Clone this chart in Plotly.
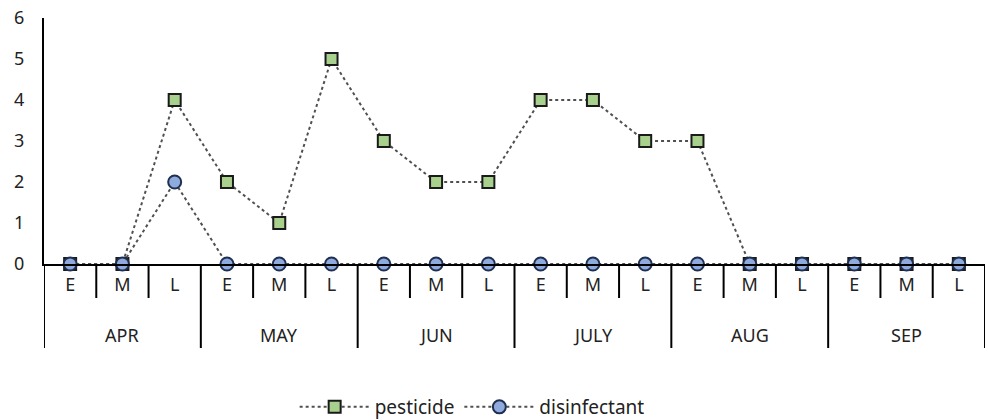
import plotly.graph_objects as go

months = ["APR", "MAY", "JUN", "JULY", "AUG", "SEP"]
periods = ["E", "M", "L"]
pesticide = [0, 0, 4, 2, 1, 5, 3, 2, 2, 4, 4, 3, 3, 0, 0, 0, 0, 0]
disinfectant = [0, 0, 2, 0, 0, 0, 0, 0, 0, 0, 0, 0, 0, 0, 0, 0, 0, 0]

inner = [p for _ in months for p in periods]
xi = list(range(len(inner)))
n_per = len(periods)

fig = go.Figure()
fig.add_trace(go.Scatter(
    x=xi, y=pesticide, name="pesticide", mode="lines+markers",
    line=dict(color="#505050", width=2, dash="dot"),
    marker=dict(symbol="square", size=12, color="#a9d18e",
                line=dict(color="#1a1a1a", width=2)),
    cliponaxis=False,
))
fig.add_trace(go.Scatter(
    x=xi, y=disinfectant, name="disinfectant", mode="lines+markers",
    line=dict(color="#505050", width=2, dash="dot"),
    marker=dict(symbol="circle", size=13, color="#8faadc",
                line=dict(color="#1f2f4f", width=2)),
    cliponaxis=False,
))

PLOT_H = 246.0  # plot-area height in px (used to convert px offsets to paper units)
def below(px):
    return -px / PLOT_H

shapes = []
for i in range(len(inner) - 1):
    b = i + 0.5
    if (i + 1) % n_per == 0:
        continue
    shapes.append(dict(type="line", xref="x", yref="paper", x0=b, x1=b,
                       y0=0, y1=below(34), line=dict(color="black", width=2)))
for k in range(len(months) + 1):
    b = k * n_per - 0.5
    shapes.append(dict(type="line", xref="x", yref="paper", x0=b, x1=b,
                       y0=0, y1=below(84), line=dict(color="black", width=2)))

annotations = []
for k, m in enumerate(months):
    annotations.append(dict(x=k * n_per + (n_per - 1) / 2, y=below(71), xref="x", yref="paper",
                            text=m, showarrow=False, yanchor="middle",
                            font=dict(size=18, color="#222222")))

fig.update_layout(
    width=988, height=420,
    margin=dict(l=44, r=3, t=18, b=156, autoexpand=False),
    paper_bgcolor="white", plot_bgcolor="white",
    font=dict(family="Noto Sans", size=18, color="#222222"),
    showlegend=True,
    legend=dict(orientation="h", x=0.455, xanchor="center", y=below(143), yanchor="middle",
                font=dict(size=19), itemwidth=70),
    shapes=shapes,
    annotations=annotations,
    xaxis=dict(
        range=[-0.5, len(inner) - 0.5], tickmode="array", tickvals=xi, ticktext=inner,
        showline=True, linecolor="black", linewidth=2,
        ticks="", ticklabelstandoff=3, automargin=False,
        showgrid=False, zeroline=False,
        tickfont=dict(size=18),
    ),
    yaxis=dict(
        range=[0, 6], dtick=1, showline=True, linecolor="black", linewidth=2,
        ticks="", showgrid=False, zeroline=False, automargin=False,
        ticklabelstandoff=14, tickfont=dict(size=18),
    ),
)

fig.write_html("out.html",
               config={"displayModeBar": False},
               post_script="document.body.style.margin='0';document.body.style.overflow='hidden';")
